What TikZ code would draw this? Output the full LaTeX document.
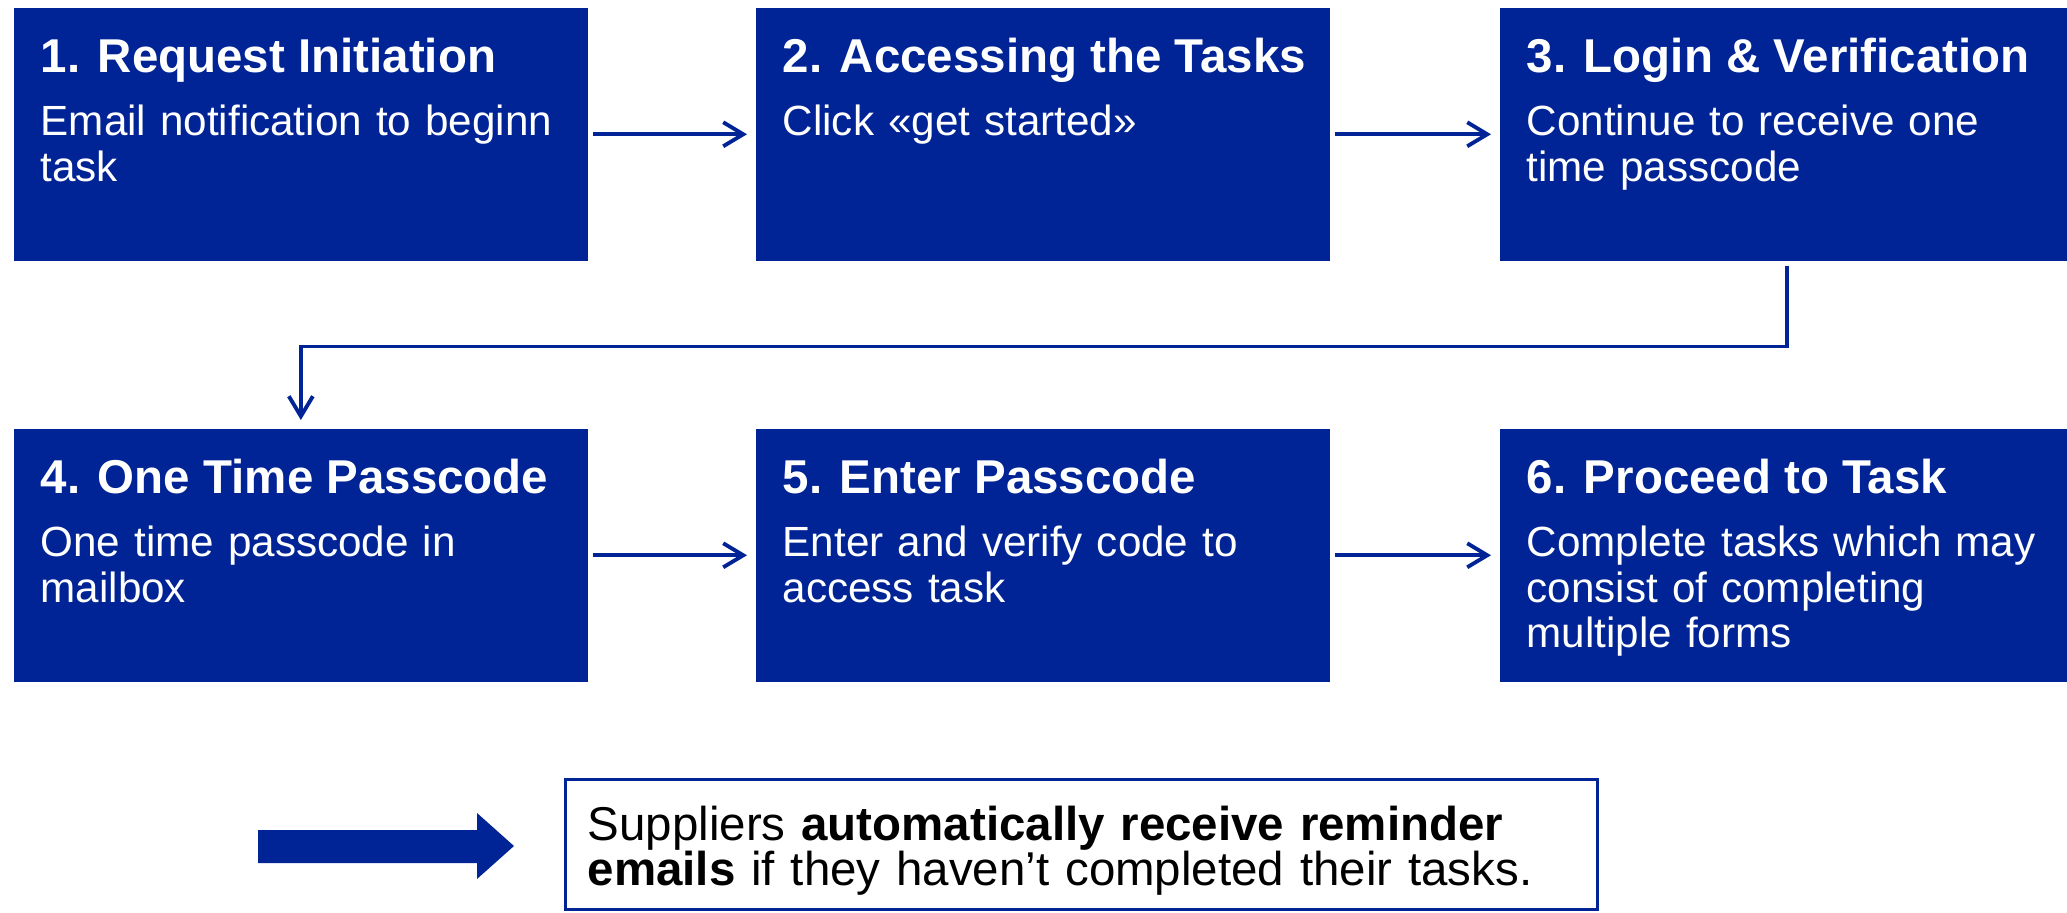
\documentclass[tikz,border=0pt]{standalone}
\usepackage{fontspec}
\setmainfont{Liberation Sans}
\usetikzlibrary{arrows.meta}

\definecolor{flowblue}{RGB}{0,36,150}

\tikzset{
    stepbox/.style={fill=flowblue, anchor=north west, inner sep=0pt,
        minimum width=5.74cm, minimum height=2.53cm},
    steptitle/.style={anchor=base west, inner sep=0pt, text=white,
        font=\fontsize{13.5}{16}\selectfont\bfseries},
    stepbody/.style={anchor=base west, inner sep=0pt, text=white, align=left,
        text width=5.2cm, font=\fontsize{12}{12.8}\selectfont},
    flow/.style={draw=flowblue, line width=1.1pt, shorten <=0.04cm, shorten >=0.08cm,
        -{Straight Barb[length=0.2cm, width=0.24cm]}},
    notebox/.style={draw=flowblue, line width=0.9pt, inner sep=0pt,
        minimum width=10.32cm, minimum height=1.30cm},
    notetext/.style={anchor=base west, inner sep=0pt, align=left,
        text width=9.9cm, font=\fontsize{13.5}{13}\selectfont}
}

\begin{document}
\begin{tikzpicture}[x=0.01cm, y=-0.01cm]
    \useasboundingbox (0,0) rectangle (2067,913);

    % first row
    \node[stepbox] (s1) at (13,7) {};
    \node[stepbox] (s2) at (755,7) {};
    \node[stepbox] (s3) at (1499,7) {};
    \node[steptitle] (t1) at ([shift={(27,65.5)}]s1.north west) {1. Request Initiation};
    \node[stepbody] (b1) at ([shift={(27,129)}]s1.north west) {Email notification to beginn\\task};
    \node[steptitle] (t2) at ([shift={(27,65.5)}]s2.north west) {2. Accessing the Tasks};
    \node[stepbody] (b2) at ([shift={(27,129)}]s2.north west) {Click «get started»};
    \node[steptitle] (t3) at ([shift={(27,65.5)}]s3.north west) {3. Login \& Verification};
    \node[stepbody] (b3) at ([shift={(27,129)}]s3.north west) {Continue to receive one\\time passcode};

    % second row
    \node[stepbox] (s4) at (13,428) {};
    \node[stepbox] (s5) at (755,428) {};
    \node[stepbox] (s6) at (1499,428) {};
    \node[steptitle] (t4) at ([shift={(27,65.5)}]s4.north west) {4. One Time Passcode};
    \node[stepbody] (b4) at ([shift={(27,129)}]s4.north west) {One time passcode in\\mailbox};
    \node[steptitle] (t5) at ([shift={(27,65.5)}]s5.north west) {5. Enter Passcode};
    \node[stepbody] (b5) at ([shift={(27,129)}]s5.north west) {Enter and verify code to\\access task};
    \node[steptitle] (t6) at ([shift={(27,65.5)}]s6.north west) {6. Proceed to Task};
    \node[stepbody] (b6) at ([shift={(27,129)}]s6.north west) {Complete tasks which may\\consist of completing\\multiple forms};

    \draw[flow] (s1) -- (s2);
    \draw[flow] (s2) -- (s3);
    \draw[flow] (s3.south) -- ++(0,85) -| (s4.north);
    \draw[flow] (s4) -- (s5);
    \draw[flow] (s5) -- (s6);

    % reminder
    \fill[flowblue] (258,830) -- (477,830) -- (477,813) -- (514,846) -- (477,879)
        -- (477,863) -- (258,863) -- cycle;
    \node[notebox] (note) at (1081.5,844.5) {};
    \node[notetext] (notetxt) at (587,840) {Suppliers \textbf{automatically receive reminder}\\
        \textbf{emails} if they haven’t completed their tasks.};

\end{tikzpicture}
\end{document}
